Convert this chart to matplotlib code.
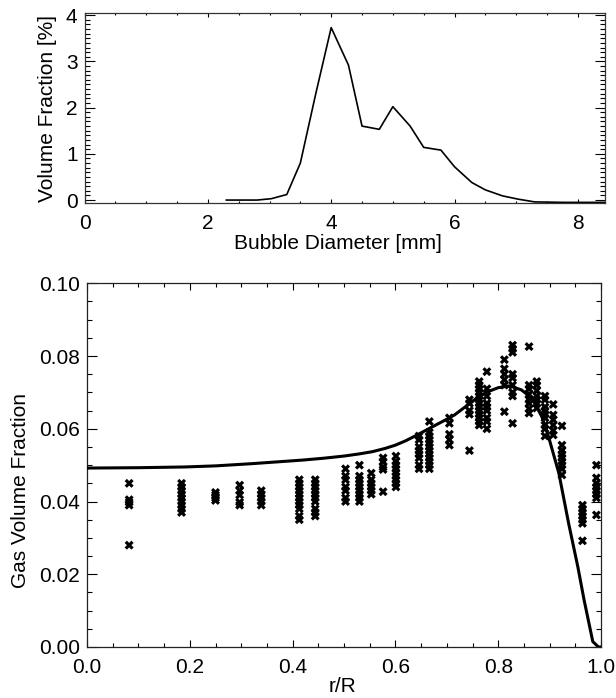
import matplotlib
matplotlib.use("Agg")
import matplotlib.pyplot as plt
from matplotlib.ticker import MultipleLocator, FormatStrFormatter

plt.rcParams['font.family'] = ['Liberation Sans', 'DejaVu Sans']

# ---- top panel: bubble size distribution ----
diam = [2.3, 2.8, 3.03, 3.28, 3.5, 3.75, 4.0, 4.28, 4.5, 4.78, 5.0, 5.28, 5.5, 5.78,
        6.0, 6.28, 6.5, 6.78, 7.03, 7.3, 7.78, 8.45]
vol_frac = [0.0, 0.0, 0.03, 0.12, 0.8, 2.3, 3.73, 2.92, 1.6, 1.53, 2.02, 1.6, 1.14, 1.08,
            0.72, 0.38, 0.22, 0.09, 0.02, -0.04, -0.05, -0.05]

# ---- bottom panel: radial gas fraction ----
curve_r = [0.0, 0.1, 0.19, 0.25, 0.32, 0.38, 0.42, 0.46, 0.5, 0.53, 0.555, 0.58, 0.6,
           0.62, 0.645, 0.67, 0.697, 0.715, 0.73, 0.76, 0.78, 0.8, 0.822, 0.845, 0.866,
           0.885, 0.898, 0.918, 0.937, 0.955, 0.967, 0.984, 0.995, 1.0]
curve_a = [0.0492, 0.0493, 0.0495, 0.0498, 0.0504, 0.0510, 0.0514, 0.0519, 0.0525,
           0.0531, 0.0537, 0.0546, 0.0555, 0.0567, 0.0585, 0.0604, 0.0624, 0.0638,
           0.0654, 0.0686, 0.0702, 0.0713, 0.0718, 0.0707, 0.0684, 0.0633, 0.0578,
           0.0478, 0.034, 0.022, 0.013, 0.0015, 0.0, 0.0]

meas_r = {
    0.082: [0.045, 0.0405, 0.0398, 0.039, 0.028],
    0.184: [0.045, 0.044, 0.043, 0.042, 0.041, 0.040, 0.039, 0.038, 0.037],
    0.250: [0.0425, 0.0418, 0.041, 0.0403],
    0.297: [0.0445, 0.043, 0.0418, 0.0398, 0.039],
    0.339: [0.043, 0.042, 0.041, 0.040, 0.039],
    0.413: [0.046, 0.045, 0.044, 0.043, 0.042, 0.041, 0.040, 0.039, 0.038, 0.036, 0.035],
    0.444: [0.046, 0.045, 0.044, 0.043, 0.042, 0.041, 0.040, 0.038, 0.037, 0.036],
    0.503: [0.049, 0.047, 0.046, 0.044, 0.043, 0.041, 0.040],
    0.530: [0.050, 0.047, 0.046, 0.045, 0.044, 0.043, 0.042, 0.041, 0.040],
    0.553: [0.0478, 0.046, 0.045, 0.044, 0.043, 0.042],
    0.576: [0.052, 0.051, 0.0495, 0.0488, 0.0427],
    0.601: [0.0525, 0.051, 0.050, 0.049, 0.048, 0.047, 0.046, 0.045, 0.044],
    0.646: [0.058, 0.057, 0.055, 0.054, 0.053, 0.052, 0.050, 0.049],
    0.666: [0.062, 0.059, 0.058, 0.057, 0.056, 0.055, 0.054, 0.053, 0.052, 0.051, 0.050, 0.049],
    0.705: [0.063, 0.0615, 0.0585, 0.057, 0.0555],
    0.744: [0.068, 0.067, 0.065, 0.064, 0.054],
    0.763: [0.073, 0.072, 0.071, 0.070, 0.069, 0.068, 0.067, 0.066, 0.065, 0.064, 0.063, 0.062, 0.061],
    0.778: [0.0757, 0.071, 0.069, 0.067, 0.066, 0.065, 0.063, 0.062, 0.060],
    0.812: [0.079, 0.0765, 0.075, 0.0735, 0.072, 0.0647],
    0.828: [0.083, 0.082, 0.081, 0.075, 0.074, 0.072, 0.070, 0.069, 0.0615],
    0.860: [0.0826, 0.072, 0.071, 0.0695, 0.068, 0.067, 0.0655, 0.0643],
    0.875: [0.073, 0.072, 0.0705, 0.069, 0.068, 0.067, 0.0657],
    0.891: [0.069, 0.068, 0.066, 0.065, 0.064, 0.063, 0.061, 0.060, 0.058],
    0.907: [0.0667, 0.0638, 0.0625, 0.061, 0.0595, 0.0583],
    0.924: [0.0608, 0.0555, 0.054, 0.053, 0.052, 0.051, 0.050, 0.049, 0.0473],
    0.964: [0.039, 0.038, 0.037, 0.036, 0.035, 0.034, 0.0292],
    0.991: [0.050, 0.0465, 0.045, 0.044, 0.043, 0.042, 0.041, 0.0363],
}

FS = 15

fig = plt.figure(figsize=(6.16, 6.98), dpi=100)

ax1 = fig.add_axes([84.5/616, 1-203.3/698, (605-84.5)/616, 190/698])
ax1.plot(diam, vol_frac, color='black', lw=1.2)
ax1.set_xlim(0, 8.44)
ax1.set_ylim(-0.07, 4.04)
ax1.xaxis.set_major_locator(MultipleLocator(2))
ax1.xaxis.set_minor_locator(MultipleLocator(0.5))
ax1.yaxis.set_major_locator(MultipleLocator(1))
ax1.yaxis.set_minor_locator(MultipleLocator(0.1))
ax1.tick_params(axis='x', which='major', direction='in', length=2.8, width=0.8, top=True, pad=8)
ax1.tick_params(axis='x', which='minor', direction='in', length=1.4, width=0.8, top=True)
ax1.tick_params(axis='y', which='major', direction='in', length=7.5, width=0.8, right=True, pad=5)
ax1.tick_params(axis='y', which='minor', direction='in', length=3.7, width=0.8, right=True)
ax1.tick_params(labelsize=FS)
ax1.set_xlabel('Bubble Diameter [mm]', fontsize=FS)
ax1.set_ylabel('Volume Fraction [%]', fontsize=FS)
ax1.xaxis.set_label_coords(0.487, -0.16)
ax1.yaxis.set_label_coords(-0.053, 0.5)
for s in ax1.spines.values():
    s.set_linewidth(0.9)
    s.set_color('#333333')

ax2 = fig.add_axes([87/616, 1-647/698, 514/616, 363.7/698])
ax2.plot(curve_r, curve_a, color='black', lw=2.2, zorder=3)
for r, vals in meas_r.items():
    ax2.scatter([r]*len(vals), vals, marker='X', s=42, color='black',
                edgecolors='none', zorder=4)
ax2.set_xlim(0, 1.0)
ax2.set_ylim(0, 0.10)
ax2.xaxis.set_major_locator(MultipleLocator(0.2))
ax2.xaxis.set_minor_locator(MultipleLocator(0.05))
ax2.yaxis.set_major_locator(MultipleLocator(0.02))
ax2.yaxis.set_minor_locator(MultipleLocator(0.005))
ax2.xaxis.set_major_formatter(FormatStrFormatter('%.1f'))
ax2.yaxis.set_major_formatter(FormatStrFormatter('%.2f'))
ax2.tick_params(axis='x', which='major', direction='in', length=5.2, width=0.8, top=True, pad=8)
ax2.tick_params(axis='x', which='minor', direction='in', length=2.6, width=0.8, top=True)
ax2.tick_params(axis='y', which='major', direction='in', length=7.4, width=0.8, right=True, pad=5)
ax2.tick_params(axis='y', which='minor', direction='in', length=3.7, width=0.8, right=True)
ax2.tick_params(labelsize=FS)
ax2.set_xlabel('r/R', fontsize=FS)
ax2.set_ylabel('Gas Volume Fraction', fontsize=FS)
ax2.xaxis.set_label_coords(0.497, -0.083)
ax2.yaxis.set_label_coords(-0.111, 0.43)
for s in ax2.spines.values():
    s.set_linewidth(0.9)
    s.set_color('#222222')

fig.savefig('out.png', dpi=100)
